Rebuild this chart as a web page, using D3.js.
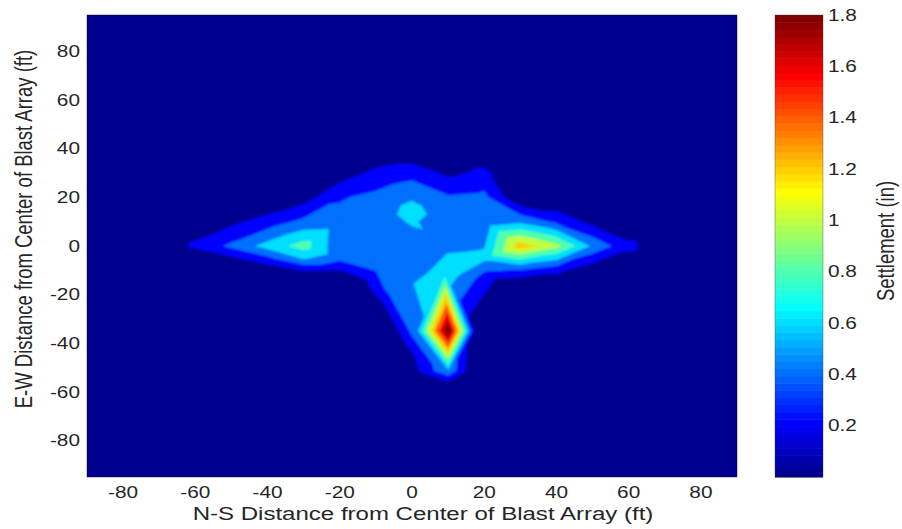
<!DOCTYPE html>
<html>
<head>
<meta charset="utf-8">
<script src="https://cdn.jsdelivr.net/npm/d3@7"></script>
<style>
  html, body { margin: 0; padding: 0; background: #ffffff; }
  svg { display: block; }
  text { font-family: "Liberation Sans", Arial, Helvetica, sans-serif; fill: #262626; }
</style>
</head>
<body>
<svg id="chart" width="902" height="529"></svg>
<script>
// Settlement survey points: N-S position (ft), E-W position (ft), settlement (in)
const surveyNS = [
  -90, -30, 30, 90, 90, 90, 90, 30, -30, -90, -90, -90,
  -40, -20, -10, 0, 10, 20, 40,
  -60, -40, -30, -20, -10, 0, 10, 20, 30, 50,
  -70, -60, -50, -40, -30, -20, -10, 0, 10, 20, 30, 40, 50, 60, 70,
  0,
  -70, -60, -50, -40, -30, -20, -10, 0, 10, 20, 30, 40, 50, 60, 70,
  -72, -60, -50, -40, -30, -20, -10, 0, 10, 20, 30, 40, 50, 60, 72,
  -70, -60, -50, -40, -30, -20, -10, 20,
  -70, -60, -50, -40, -30, -20, -10, 0, 20, 30, 40, 50, 60, 70,
  -30, -20, -15, -5.5, 9, 24, 30, 40, 55,
  -9, -6, -4, 1.5, 10, 18, 10, -2, 17, 10, 28, -20, -10, 30, 40
];
const surveyEW = [
  95, 95, 95, 95, 30, -30, -95, -95, -95, -95, -30, 30,
  40, 40, 40, 40, 40, 40, 40,
  30, 30, 30, 30, 30, 30, 30, 30, 30, 30,
  20, 20, 20, 20, 20, 20, 20, 20, 20, 20, 20, 20, 20, 20, 20,
  15,
  10, 10, 10, 10, 10, 10, 10, 10, 10, 10, 10, 10, 10, 10, 10,
  0, 0, 0, 0, 0, 0, 0, 0, 0, 0, 0, 0, 0, 0, 0,
  -5, -5, -5, -5, -5, -5, -5, -5,
  -10, -10, -10, -10, -10, -10, -10, -10, -10, -10, -10, -10, -10, -10,
  -15, -15, -18, -18, -12, -14, -15, -18, -15,
  -28, -34, -42, -35, -35, -35, -51, -52, -52, -58, -28, -35, -60, -60, -35
];
const settlement = [
  0, 0, 0, 0, 0, 0, 0, 0, 0, 0, 0, 0,
  0, 0, 0, 0, 0, 0, 0,
  0, 0, 0, 0.08, 0.25, 0.32, 0.15, 0.25, 0, 0,
  0, 0, 0, 0, 0.1, 0.38, 0.45, 0.57, 0.42, 0.45, 0, 0, 0, 0, 0,
  0.667,
  0, 0.08, 0.15, 0.28, 0.45, 0.47, 0.5, 0.62, 0.5, 0.45, 0.55, 0.35, 0.13, 0, 0,
  0, 0.235, 0.44, 0.67, 0.88, 0.45, 0.5, 0.5, 0.55, 0.58, 1.3, 1.05, 0.55, 0.25, 0,
  0, 0.05, 0.15, 0.35, 0.62, 0.45, 0.48, 0.65,
  0, 0, 0, 0.05, 0.2, 0.18, 0.4, 0.46, 0.42, 0.38, 0.25, 0.05, 0, 0,
  0, 0, 0, 0.5, 0.74, 0.15, 0.05, 0, 0,
  0, 0.05, 0, 0.55, 2.0, 0, 0.58, 0, 0, 0, 0, 0, 0, 0, 0
];

// Filled contour levels (in)
const levels = [0, 0.2, 0.4, 0.6, 0.8, 1.0, 1.2, 1.4, 1.6, 1.8];

// Axis ticks
const xTicks = [-80, -60, -40, -20, 0, 20, 40, 60, 80];
const yTicks = [-80, -60, -40, -20, 0, 20, 40, 60, 80];
const barTicks = [0.2, 0.4, 0.6, 0.8, 1, 1.2, 1.4, 1.6, 1.8];

const xTitle = "N-S Distance from Center of Blast Array (ft)";
const yTitle = "E-W Distance from Center of Blast Array (ft)";
const barTitle = "Settlement (in)";

// ---------------------------------------------------------------
const svg = d3.select("#chart");
const plot = { left: 87, right: 737, top: 15, bottom: 477 };
const bar = { left: 775, right: 823, top: 15, bottom: 477 };
const stretch = 1.3;

const x = d3.scaleLinear().domain([-90, 90]).range([plot.left, plot.right]);
const y = d3.scaleLinear().domain([-95, 95]).range([plot.bottom, plot.top]);
const cScale = d3.scaleLinear().domain([0, 1.8]).range([bar.bottom, bar.top]);

// jet colormap (64 entries), colour limits 0 .. 1.8
const nColors = 64;
function jet(t) {
  const cl = v => Math.max(0, Math.min(1, v));
  const r = cl(Math.min(4 * t - 1.5, -4 * t + 4.5));
  const g = cl(Math.min(4 * t - 0.5, -4 * t + 3.5));
  const b = cl(Math.min(4 * t + 0.5, -4 * t + 2.5));
  return d3.rgb(Math.round(r * 255), Math.round(g * 255), Math.round(b * 255)).formatHex();
}
const cmax = 1.8;
function levelColor(L) {
  const k = Math.min(nColors, Math.floor(L / cmax * nColors + 1e-9) + 1);
  return jet(k / nColors);
}

const defs = svg.append("defs");
defs.append("clipPath").attr("id", "plotClip")
  .append("rect")
  .attr("x", plot.left).attr("y", plot.top)
  .attr("width", plot.right - plot.left).attr("height", plot.bottom - plot.top);
defs.append("filter").attr("id", "soft")
  .attr("x", "-5%").attr("y", "-5%").attr("width", "110%").attr("height", "110%")
  .append("feGaussianBlur").attr("stdDeviation", 1.3);

// Triangulate the survey points and fill each band (value >= level)
const pts = surveyNS.map((d, i) => [d, surveyEW[i], settlement[i]]);
const delaunay = d3.Delaunay.from(pts, d => d[0], d => d[1]);
const tri = delaunay.triangles;

function clipAbove(poly, L) {
  const out = [];
  for (let i = 0; i < poly.length; i++) {
    const p = poly[i], q = poly[(i + 1) % poly.length];
    const pin = p[2] >= L, qin = q[2] >= L;
    if (pin) out.push(p);
    if (pin !== qin) {
      const t = (L - p[2]) / (q[2] - p[2]);
      out.push([p[0] + t * (q[0] - p[0]), p[1] + t * (q[1] - p[1]), L]);
    }
  }
  return out;
}

const clipG = svg.append("g").attr("clip-path", "url(#plotClip)");
const fillG = clipG.append("g").attr("filter", "url(#soft)");

fillG.append("rect")
  .attr("x", plot.left - 12).attr("y", plot.top - 12)
  .attr("width", plot.right - plot.left + 24).attr("height", plot.bottom - plot.top + 24)
  .attr("fill", levelColor(levels[0]));

levels.forEach(L => {
  const p = d3.path();
  for (let i = 0; i < tri.length; i += 3) {
    const poly = clipAbove([pts[tri[i]], pts[tri[i + 1]], pts[tri[i + 2]]], L);
    if (poly.length < 3) continue;
    p.moveTo(x(poly[0][0]), y(poly[0][1]));
    for (let j = 1; j < poly.length; j++) p.lineTo(x(poly[j][0]), y(poly[j][1]));
    p.closePath();
  }
  const col = levelColor(L);
  fillG.append("path")
    .attr("d", p.toString())
    .attr("fill", col)
    .attr("stroke", col)
    .attr("stroke-width", 0.8)
    .attr("stroke-linejoin", "round");
});

// Axes box
svg.append("rect")
  .attr("x", plot.left).attr("y", plot.top)
  .attr("width", plot.right - plot.left).attr("height", plot.bottom - plot.top)
  .attr("fill", "none").attr("stroke", "rgba(0,0,0,0.5)").attr("stroke-width", 0.8);

// Text drawn horizontally widened
function stretchedText(g, tx, ty, str, size, anchor, rotate) {
  return g.append("text")
    .attr("transform", `translate(${tx},${ty}) scale(${stretch},1)` + (rotate ? " rotate(-90)" : ""))
    .attr("text-anchor", anchor)
    .attr("font-size", size)
    .text(str);
}

const axisG = svg.append("g");
xTicks.forEach(t => stretchedText(axisG, x(t), 498, String(t), 16, "middle"));
yTicks.forEach(t => stretchedText(axisG, 80, y(t) + 5.7, String(t), 16, "end"));
stretchedText(axisG, 423, 520, xTitle, 18.5, "middle");
stretchedText(axisG, 32, 229, yTitle, 18.5, "middle", true);

// Colour bar
const barG = svg.append("g");
const step = cmax / nColors;
d3.range(nColors).forEach(k => {
  barG.append("rect")
    .attr("x", bar.left)
    .attr("y", cScale((k + 1) * step))
    .attr("width", bar.right - bar.left)
    .attr("height", cScale(k * step) - cScale((k + 1) * step) + 0.5)
    .attr("fill", jet((k + 1) / nColors));
});
barG.append("rect")
  .attr("x", bar.left).attr("y", bar.top)
  .attr("width", bar.right - bar.left).attr("height", bar.bottom - bar.top)
  .attr("fill", "none").attr("stroke", "rgba(60,60,60,0.6)").attr("stroke-width", 0.6);
barTicks.forEach(t => stretchedText(barG, 828, cScale(t) + 5.7, String(t), 16, "start"));
stretchedText(barG, 894, 241, barTitle, 18.5, "middle", true);
</script>
</body>
</html>
